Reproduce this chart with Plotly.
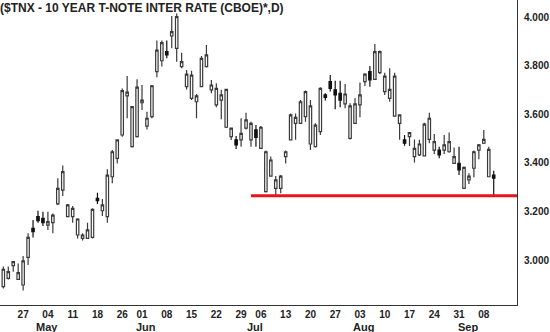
import pandas as pd
import plotly.graph_objects as go

# ---- data ----
holidays = ["2009-05-25", "2009-07-03", "2009-09-07"]
dates = [d.strftime("%Y-%m-%d") for d in pd.bdate_range("2009-04-21", "2009-09-10")
         if d.strftime("%Y-%m-%d") not in holidays]

opens = [2.890, 2.924, 2.977, 2.920, 2.897, 3.011, 3.130, 3.179, 3.172, 3.144,
         3.154, 3.231, 3.288, 3.179, 3.179, 3.103, 3.089, 3.089, 3.093, 3.254,
         3.203, 3.179, 3.343, 3.419, 3.515, 3.676, 3.467, 3.508, 3.648, 3.552,
         3.591, 3.776, 3.821, 3.859, 3.923, 3.872, 3.797, 3.714, 3.666, 3.652,
         3.714, 3.797, 3.701, 3.639, 3.659, 3.547, 3.508, 3.495, 3.495, 3.543,
         3.495, 3.536, 3.460, 3.282, 3.346, 3.295, 3.295, 3.426, 3.495, 3.563,
         3.563, 3.591, 3.478, 3.467, 3.529, 3.680, 3.735, 3.701, 3.687, 3.643,
         3.501, 3.563, 3.639, 3.735, 3.776, 3.744, 3.772, 3.694, 3.666, 3.593,
         3.563, 3.495, 3.508, 3.426, 3.433, 3.429, 3.497, 3.453, 3.453, 3.453,
         3.446, 3.398, 3.398, 3.295, 3.330, 3.378, 3.453, 3.481, 3.343, 3.350]
highs = [2.973, 2.973, 2.996, 2.986, 3.016, 3.110, 3.165, 3.203, 3.199, 3.199,
         3.192, 3.337, 3.389, 3.231, 3.223, 3.172, 3.110, 3.154, 3.213, 3.277,
         3.251, 3.374, 3.453, 3.497, 3.707, 3.758, 3.635, 3.745, 3.721, 3.611,
         3.721, 3.904, 3.904, 3.904, 4.005, 4.016, 3.854, 3.783, 3.780, 3.684,
         3.841, 3.886, 3.742, 3.728, 3.701, 3.706, 3.545, 3.511, 3.584, 3.607,
         3.570, 3.556, 3.552, 3.451, 3.426, 3.346, 3.350, 3.451, 3.604, 3.604,
         3.659, 3.698, 3.659, 3.563, 3.712, 3.687, 3.762, 3.739, 3.739, 3.725,
         3.646, 3.666, 3.731, 3.769, 3.799, 3.890, 3.863, 3.772, 3.790, 3.772,
         3.600, 3.515, 3.527, 3.497, 3.495, 3.566, 3.607, 3.519, 3.467, 3.515,
         3.525, 3.464, 3.467, 3.385, 3.357, 3.451, 3.478, 3.536, 3.467, 3.368]
lows = [2.883, 2.920, 2.952, 2.918, 2.874, 2.979, 3.093, 3.154, 3.140, 3.124,
        3.110, 3.227, 3.264, 3.179, 3.154, 3.089, 3.080, 3.089, 3.089, 3.231,
        3.181, 3.154, 3.316, 3.398, 3.508, 3.584, 3.464, 3.505, 3.618, 3.538,
        3.584, 3.753, 3.797, 3.831, 3.872, 3.817, 3.790, 3.703, 3.659, 3.584,
        3.712, 3.793, 3.687, 3.629, 3.580, 3.544, 3.494, 3.457, 3.467, 3.538,
        3.467, 3.467, 3.457, 3.278, 3.343, 3.264, 3.275, 3.398, 3.492, 3.495,
        3.560, 3.570, 3.453, 3.464, 3.515, 3.657, 3.694, 3.621, 3.629, 3.625,
        3.497, 3.560, 3.588, 3.717, 3.714, 3.742, 3.766, 3.680, 3.652, 3.591,
        3.495, 3.471, 3.470, 3.402, 3.429, 3.426, 3.481, 3.437, 3.419, 3.437,
        3.442, 3.396, 3.350, 3.293, 3.313, 3.341, 3.415, 3.478, 3.341, 3.268]
closes = [2.962, 2.952, 2.993, 2.948, 2.996, 3.093, 3.117, 3.162, 3.154, 3.158,
          3.185, 3.295, 3.364, 3.227, 3.213, 3.169, 3.103, 3.124, 3.209, 3.245,
          3.227, 3.350, 3.446, 3.495, 3.698, 3.692, 3.632, 3.712, 3.659, 3.584,
          3.718, 3.865, 3.896, 3.845, 3.941, 4.003, 3.817, 3.766, 3.762, 3.676,
          3.831, 3.845, 3.721, 3.707, 3.680, 3.703, 3.543, 3.474, 3.522, 3.577,
          3.563, 3.505, 3.547, 3.446, 3.412, 3.330, 3.346, 3.446, 3.598, 3.588,
          3.652, 3.694, 3.635, 3.556, 3.707, 3.670, 3.707, 3.680, 3.659, 3.684,
          3.635, 3.643, 3.680, 3.766, 3.742, 3.859, 3.859, 3.758, 3.703, 3.758,
          3.598, 3.481, 3.525, 3.460, 3.478, 3.560, 3.584, 3.488, 3.433, 3.474,
          3.488, 3.426, 3.371, 3.382, 3.346, 3.446, 3.474, 3.497, 3.456, 3.337]

tick_dates = ["2009-04-27", "2009-05-04", "2009-05-11", "2009-05-18", "2009-05-26",
              "2009-06-01", "2009-06-08", "2009-06-15", "2009-06-22", "2009-06-29",
              "2009-07-06", "2009-07-13", "2009-07-20", "2009-07-27", "2009-08-03",
              "2009-08-10", "2009-08-17", "2009-08-24", "2009-08-31", "2009-09-08"]
tick_labels = ["27", "04", "11", "18", "26", "01", "08", "15", "22", "29",
               "06", "13", "20", "27", "03", "10", "17", "24", "31", "08"]
month_dates = ["2009-05-01", "2009-06-01", "2009-07-01", "2009-08-03", "2009-09-01"]
month_labels = ["May", "Jun", "Jul", "Aug", "Sep"]
y_ticks = [3.0, 3.2, 3.4, 3.6, 3.8, 4.0]

support_level = 3.265
support_start = "2009-07-01"

title = "($TNX - 10 YEAR T-NOTE INTER RATE (CBOE)*,D)"

# ---- figure ----
xi = list(range(len(dates)))
x_min, x_max = -0.67, 103.7

fig = go.Figure()
fig.add_trace(go.Candlestick(
    x=xi, open=opens, high=highs, low=lows, close=closes,
    increasing=dict(line=dict(color="#3a3a3a", width=1.2), fillcolor="#ffffff"),
    decreasing=dict(line=dict(color="#111111", width=1.2), fillcolor="#111111"),
    whiskerwidth=0, showlegend=False, hoverinfo="skip",
))

fig.add_shape(type="line", xref="x", yref="y",
              x0=dates.index(support_start), x1=x_max,
              y0=support_level, y1=support_level,
              line=dict(color="#e8141c", width=3))

font_family = "Liberation Sans, Arial, sans-serif"

for d, lab in zip(month_dates, month_labels):
    fig.add_annotation(x=dates.index(d), y=0, xref="x", yref="paper",
                       text=f"<b>{lab}</b>", showarrow=False, xanchor="center",
                       yanchor="top", xshift=4, yshift=-14,
                       font=dict(size=11, color="#222222", family=font_family))

fig.add_annotation(x=0, y=1, xref="paper", yref="paper", text=f"<b>{title}</b>",
                   showarrow=False, xanchor="left", yanchor="top", yshift=1, xshift=-2,
                   font=dict(size=12, color="#222222", family=font_family))

fig.update_layout(
    width=550, height=332,
    margin=dict(l=0, r=33, t=0, b=27),
    paper_bgcolor="white", plot_bgcolor="white",
    xaxis=dict(range=[x_min, x_max], tickvals=[dates.index(d) for d in tick_dates],
               ticktext=[f"<b>{t}</b>" for t in tick_labels], showgrid=False,
               zeroline=False, showline=True, linecolor="#333333", linewidth=1,
               ticks="", tickfont=dict(size=10, color="#222222", family=font_family),
               rangeslider=dict(visible=False), fixedrange=True),
    yaxis=dict(side="right", range=[2.8146, 4.0713], tickvals=y_ticks,
               ticktext=[f"<b>{v:.3f}</b>" for v in y_ticks], showgrid=False,
               zeroline=False, showline=True, linecolor="#333333", linewidth=1,
               ticks="", ticklabelstandoff=4,
               tickfont=dict(size=10, color="#222222", family=font_family),
               fixedrange=True),
)

fig.write_html("out.html")
